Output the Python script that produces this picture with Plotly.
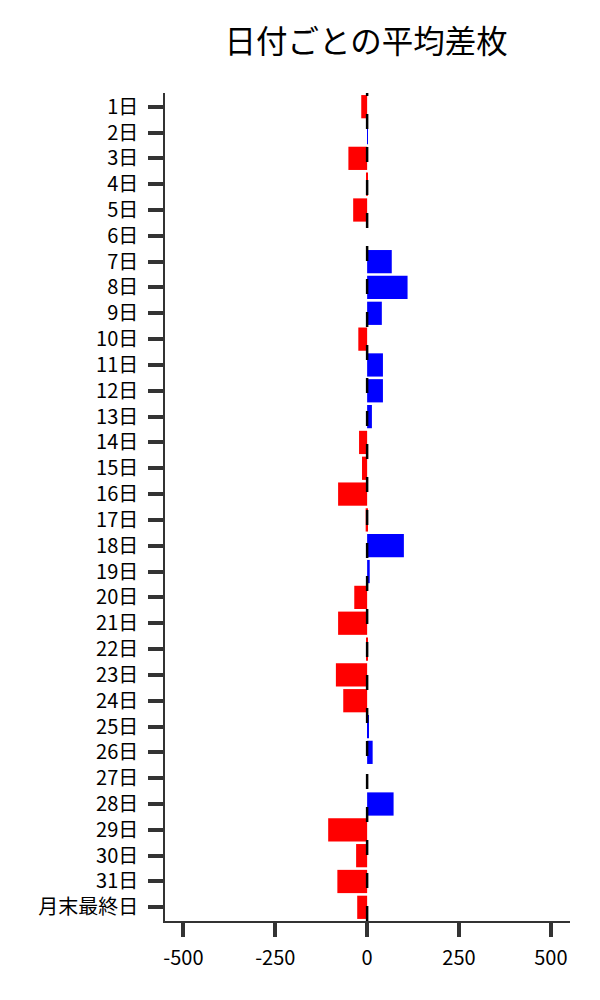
import plotly.graph_objects as go

FONT = "Noto Sans CJK JP"

days = [f"{d}日" for d in range(1, 32)] + ["月末最終日"]
avg_diff = [
    -16, 2, -51, -2, -38, 0, 67, 110, 40, -24,
    43, 43, 13, -22, -14, -79, -4, 100, 7, -35,
    -79, -2, -85, -65, 4, 15, 0, 72, -106, -30,
    -81, -27,
]

bar_colors = ["blue" if v > 0 else "red" for v in avg_diff]

fig = go.Figure()
fig.add_trace(
    go.Bar(
        x=avg_diff,
        y=days,
        orientation="h",
        marker=dict(color=bar_colors, line=dict(width=0)),
        showlegend=False,
    )
)

# zero reference line
fig.add_shape(
    type="line",
    x0=0, x1=0, xref="x",
    y0=0, y1=1, yref="paper",
    line=dict(color="black", width=2.5, dash="15px,18px"),
    layer="above",
)

fig.update_layout(
    width=600,
    height=1000,
    title=dict(
        text="日付ごとの平均差枚",
        x=0.597, xanchor="center",
        y=0.966, yanchor="middle",
        font=dict(family=FONT, size=31.5, color="black"),
    ),
    font=dict(family=FONT, size=20, color="black"),
    plot_bgcolor="white",
    paper_bgcolor="white",
    bargap=0.1,
    margin=dict(l=157, r=38, t=85, b=87),
)

fig.update_xaxes(
    range=[-550, 552],
    tickvals=[-500, -250, 0, 250, 500],
    ticktext=["-500", "-250", "0", "250", "500"],
    showgrid=False,
    zeroline=False,
    showline=True,
    linecolor="#333",
    linewidth=1.5,
    ticks="outside",
    ticklen=14,
    tickwidth=4,
    tickcolor="#333",
    ticklabelstandoff=4,
)
fig.update_yaxes(
    categoryorder="array",
    categoryarray=days,
    autorange=False,
    range=[len(days) - 0.47, -0.53],
    showgrid=False,
    zeroline=False,
    showline=True,
    linecolor="#333",
    linewidth=1.5,
    ticks="outside",
    ticklen=15,
    tickwidth=4,
    tickcolor="#333",
    ticklabelstandoff=6,
)

fig.write_html("out.html")
